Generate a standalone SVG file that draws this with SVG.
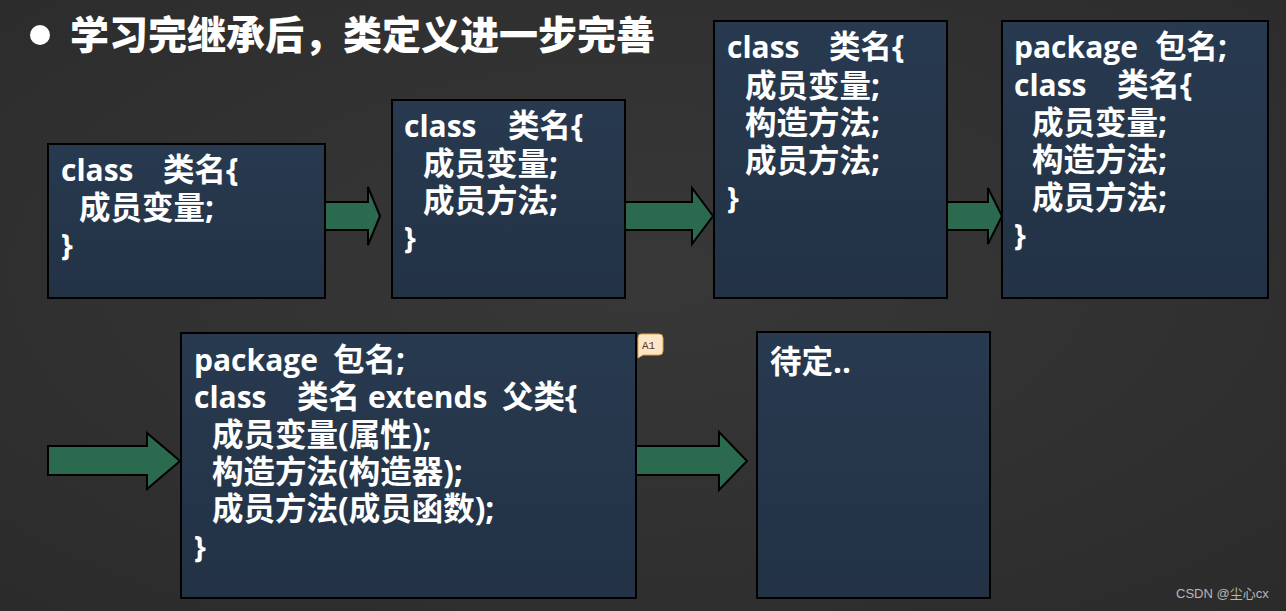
<svg xmlns="http://www.w3.org/2000/svg" width="1286" height="611" viewBox="0 0 1286 611">
<defs>
<radialGradient id="bg" cx="50%" cy="45%" r="75%">
<stop offset="0" stop-color="#383838"/>
<stop offset="1" stop-color="#2b2b2b"/>
</radialGradient>
<linearGradient id="boxg" x1="0" y1="0" x2="0" y2="1">
<stop offset="0" stop-color="#283a50"/>
<stop offset="1" stop-color="#233245"/>
</linearGradient>
<style>
.box{fill:url(#boxg);stroke:#000;stroke-width:2}
.arr{fill:#2c6a50;stroke:#000;stroke-width:2;stroke-linejoin:miter}
.t{font-family:"Open Sans","Noto Sans CJK SC",sans-serif;font-weight:bold;font-size:30px;fill:#fff}
.c{font-size:31.5px}
.title{font-family:"Open Sans","Noto Sans CJK SC",sans-serif;font-weight:900;font-size:39px;fill:#fff}
.wm{font-family:"Liberation Sans","Noto Sans CJK SC",sans-serif;font-size:13px;fill:#b8b8b8}
.cm{font-family:"Liberation Mono",monospace;font-size:11px;fill:#5a3a10}
</style>
</defs>
<rect width="1286" height="611" fill="url(#bg)"/>
<g id="title">
<circle cx="40" cy="35" r="10" fill="#fff"/>
<text class="title" x="70" y="49">学习完继承后，类定义进一步完善</text>
</g>
<g id="connectors">
<polygon class="arr" points="325,202 368,202 368,187 380,216 368,245 368,230 325,230"/>
<polygon class="arr" points="625,202 692,202 692,188 713,216 692,244 692,230 625,230"/>
<polygon class="arr" points="947,202 988,202 988,188 1002,216 988,244 988,230 947,230"/>
<polygon class="arr" points="48,446 147,446 147,433 180,461 147,489 147,475 48,475"/>
<polygon class="arr" points="636,446 719,446 719,432 747,461 719,490 719,475 636,475"/>
</g>
<g id="node1">
<rect class="box" x="48" y="144" width="277" height="154"/>
<text class="t"><tspan x="61" y="181">class</tspan><tspan class="c" x="163" y="181">类名{</tspan><tspan class="c" x="79" y="219">成员变量;</tspan><tspan x="61" y="256">}</tspan></text>
</g>
<g id="node2">
<rect class="box" x="392" y="100" width="233" height="198"/>
<text class="t"><tspan x="404" y="137">class</tspan><tspan class="c" x="508" y="137">类名{</tspan><tspan class="c" x="423" y="175">成员变量;</tspan><tspan class="c" x="423" y="212">成员方法;</tspan><tspan x="404" y="249">}</tspan></text>
</g>
<g id="node3">
<rect class="box" x="714" y="21" width="233" height="277"/>
<text class="t"><tspan x="727" y="58">class</tspan><tspan class="c" x="829" y="58">类名{</tspan><tspan class="c" x="745" y="97">成员变量;</tspan><tspan class="c" x="745" y="134">构造方法;</tspan><tspan class="c" x="745" y="172">成员方法;</tspan><tspan x="727" y="209">}</tspan></text>
</g>
<g id="node4">
<rect class="box" x="1002" y="21" width="266" height="277"/>
<text class="t"><tspan x="1014" y="58">package</tspan><tspan class="c" x="1155" y="58">包名;</tspan><tspan x="1014" y="96">class</tspan><tspan class="c" x="1117" y="96">类名{</tspan><tspan class="c" x="1032" y="134">成员变量;</tspan><tspan class="c" x="1032" y="171">构造方法;</tspan><tspan class="c" x="1032" y="209">成员方法;</tspan><tspan x="1014" y="246">}</tspan></text>
</g>
<g id="node5">
<rect class="box" x="181" y="333" width="455" height="265"/>
<text class="t"><tspan x="194" y="371">package</tspan><tspan class="c" x="333" y="371">包名;</tspan><tspan x="194" y="408">class</tspan><tspan class="c" x="297" y="408">类名</tspan><tspan x="368" y="408">extends</tspan><tspan class="c" x="502" y="408">父类{</tspan><tspan class="c" x="212" y="446">成员变量(属性);</tspan><tspan class="c" x="212" y="483">构造方法(构造器);</tspan><tspan class="c" x="212" y="520">成员方法(成员函数);</tspan><tspan x="194" y="558">}</tspan></text>
</g>
<g id="comment">
<path d="M641,334 H659 Q663,334 663,338 V351 Q663,355 659,355 H643 L638,358 L638,338 Q638,334 641,334 Z" fill="#fde6c8" stroke="#e0a050" stroke-width="1"/>
<text class="cm" x="642" y="349">A1</text>
</g>
<g id="node6">
<rect class="box" x="757" y="332" width="233" height="266"/>
<text class="t c" x="770" y="373">待定..</text>
</g>
<text class="wm" x="1176" y="598">CSDN @尘心cx</text>
</svg>
